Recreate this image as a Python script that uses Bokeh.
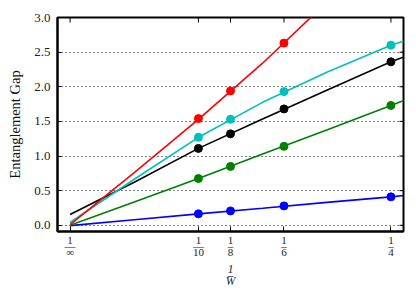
import math
from bokeh.plotting import figure
from bokeh.models import Range1d, FixedTicker, PrintfTickFormatter
from bokeh.embed import file_html
from bokeh.resources import INLINE

# measured points at 1/W
inv_w = [1/10, 1/8, 1/6, 1/4]
red_pts = [1.54, 1.94, 2.63]
cyan_pts = [1.27, 1.53, 1.93, 2.60]
black_pts = [1.11, 1.32, 1.68, 2.36]
green_pts = [0.675, 0.85, 1.14, 1.73]
blue_pts = [0.165, 0.207, 0.28, 0.41]

# fit curves
fit_x = [0.0, 0.05, 0.1, 0.15, 0.2, 0.25, 0.26]
red_fit = [0.01, 0.76, 1.53, 2.34, 3.22]
cyan_fit = [0.04, 0.665, 1.27, 1.775, 2.21, 2.60, 2.66]
black_fit = [0.155, 0.62, 1.11, 1.535, 1.95, 2.36, 2.43]
green_fit = [0.0, 0.335, 0.675, 1.03, 1.375, 1.73, 1.80]
blue_fit = [-0.005, 0.08, 0.165, 0.245, 0.33, 0.41, 0.43]

x_ticks = [0, 0.1, 0.125, 1/6, 0.25]
x_tick_labels = ["1\n\u2014\n\u221e", "1\n\u2014\n10", "1\n\u2013\n8", "1\n\u2013\n6", "1\n\u2013\n4"]
y_ticks = [0.0, 0.5, 1.0, 1.5, 2.0, 2.5, 3.0]

FONT = "Liberation Serif"

xr = Range1d(-0.0098, 0.2598)
yr = Range1d(-0.09, 3.0)
p = figure(frame_width=346, frame_height=214, x_range=xr, y_range=yr,
           output_backend="svg", toolbar_location=None,
           min_border_left=57, min_border_right=10, min_border_top=17, min_border_bottom=60)
p.outline_line_color = "black"
p.outline_line_width = 2

xt = FixedTicker(ticks=x_ticks)
yt = FixedTicker(ticks=y_ticks)

p.xaxis.ticker = xt
p.xaxis.major_label_overrides = {k: v for k, v in zip(x_ticks, x_tick_labels)}
p.xaxis.major_label_text_font = FONT
p.xaxis.major_label_text_font_size = "11px"
p.xaxis.major_label_text_color = "#222222"
p.xaxis.major_label_text_line_height = 0.52
p.xaxis.major_label_standoff = 2
p.xaxis.major_tick_in = 5
p.xaxis.major_tick_out = 0
p.xaxis.minor_tick_line_color = None
p.xaxis.axis_line_width = 2
p.xaxis.axis_label = "1\n\u2013\nW"
p.xaxis.axis_label_text_font = FONT
p.xaxis.axis_label_text_font_size = "11.5px"
p.xaxis.axis_label_text_color = "#222222"
p.xaxis.axis_label_text_font_style = "italic"
p.xaxis.axis_label_text_line_height = 0.52
p.xaxis.axis_label_standoff = 2

p.yaxis.ticker = yt
p.yaxis.formatter = PrintfTickFormatter(format="%.1f")
p.yaxis.major_label_text_font = FONT
p.yaxis.major_label_text_font_size = "13px"
p.yaxis.major_label_text_color = "#222222"
p.yaxis.major_label_standoff = 7
p.yaxis.major_tick_in = 4
p.yaxis.major_tick_out = 0
p.yaxis.minor_tick_line_color = None
p.yaxis.axis_line_width = 2
p.yaxis.axis_label = "Entanglement Gap"
p.yaxis.axis_label_text_font = FONT
p.yaxis.axis_label_text_font_size = "14.5px"
p.yaxis.axis_label_text_color = "#111111"
p.yaxis.axis_label_text_font_style = "normal"
p.yaxis.axis_label_standoff = 8

p.xgrid.visible = False
p.ygrid.ticker = yt
p.ygrid.grid_line_color = "black"
p.ygrid.grid_line_dash = "1 3"
p.ygrid.grid_line_width = 1

# inward ticks on the top and right frame edges
p.ray(x=x_ticks, y=[yr.end] * len(x_ticks), length=5, length_units="screen",
      angle=-math.pi / 2, line_color="black", line_width=1)
p.ray(x=[xr.end] * len(y_ticks), y=y_ticks, length=4, length_units="screen",
      angle=math.pi, line_color="black", line_width=1)

series = [
    (blue_fit, blue_pts, "#0000ff"),
    (green_fit, green_pts, "#008000"),
    (black_fit, black_pts, "#000000"),
    (cyan_fit, cyan_pts, "#00bfbf"),
    (red_fit, red_pts, "#ff0000"),
]
for fy, pts, c in series:
    p.line(fit_x[:len(fy)], fy, line_color=c, line_width=1.6)
    p.scatter(inv_w[:len(pts)], pts, size=8, fill_color=c, line_color=c)

open("out.html", "w").write(file_html(p, INLINE))
